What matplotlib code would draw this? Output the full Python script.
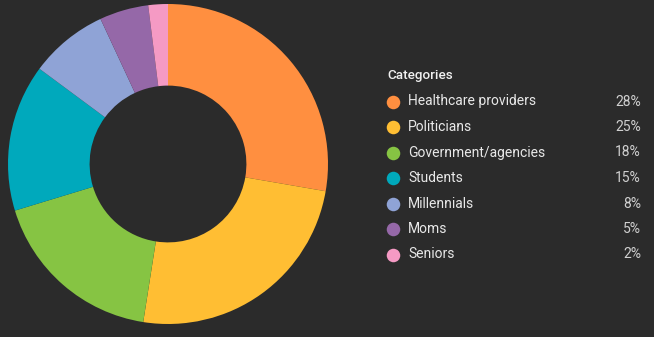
import matplotlib.pyplot as plt

categories = ['Healthcare providers', 'Politicians', 'Government/agencies',
              'Students', 'Millennials', 'Moms', 'Seniors']
shares = [28, 25, 18, 15, 8, 5, 2]
colors = ['#FF8F40', '#FFBE33', '#86C443', '#00A9BC', '#8FA3D6', '#9568A8', '#F59AC4']

bg = '#2b2b2b'
W, H = 654, 337
fig = plt.figure(figsize=(W / 100, H / 100), dpi=100, facecolor=bg)

# donut
cx, cy, r = 168, 164, 160
ax = fig.add_axes([(cx - r) / W, (H - cy - r) / H, 2 * r / W, 2 * r / H])
ax.set_facecolor(bg)
ax.pie(shares, colors=colors, startangle=90, counterclock=False,
       wedgeprops=dict(width=0.51, linewidth=0))
ax.set_xlim(-1, 1)
ax.set_ylim(-1, 1)
ax.set_aspect('auto')
ax.axis('off')

# legend drawn in pixel coordinates
lg = fig.add_axes([0, 0, 1, 1], facecolor='none')
lg.set_xlim(0, W)
lg.set_ylim(H, 0)
lg.axis('off')
lg.text(387, 75.5, 'Categories', color='#f0f0f0', fontsize=9.7, fontweight='medium',
        va='center', ha='left', family='Roboto')
y0, dy = 101.5, 25.5
for i, (cat, val, col) in enumerate(zip(categories, shares, colors)):
    y = y0 + i * dy
    lg.scatter([393], [y], s=95, color=col, linewidths=0)
    lg.text(408, y, cat, color='#e8e8e8', fontsize=10, va='center', ha='left',
            family='Roboto')
    lg.text(641, y, f'{val}%', color='#d0d0d0', fontsize=10, va='center',
            ha='right', family='Roboto')

fig.savefig('out.png', dpi=100, facecolor=bg)
